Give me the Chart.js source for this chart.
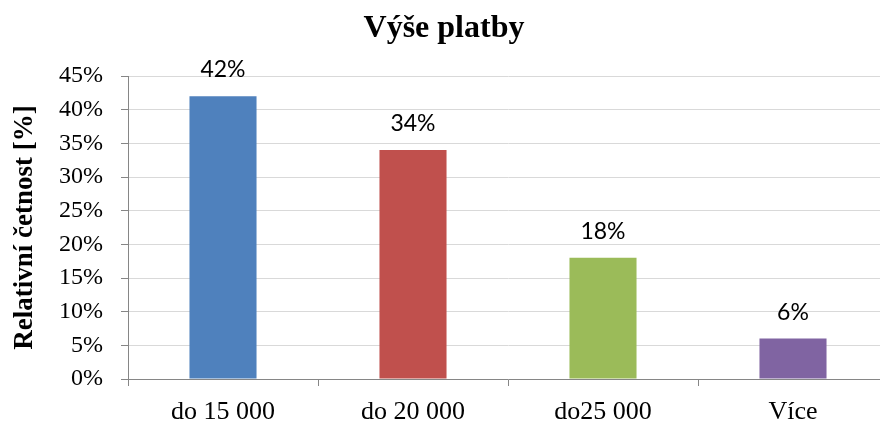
<!DOCTYPE html>
<html>
<head>
<meta charset="utf-8">
<script src="https://cdn.jsdelivr.net/npm/chart.js@4/dist/chart.umd.min.js"></script>
<style>
  html, body { margin: 0; padding: 0; background: #fff; overflow: hidden; }
  #wrap { width: 900px; height: 423px; }
</style>
</head>
<body>
<div id="wrap"><canvas id="c" width="900" height="423"></canvas></div>
<script>
// Payment amount categories and their relative frequency (%)
const categories = ['do 15 000', 'do 20 000', 'do25 000', 'Více'];
const shares = [42, 34, 18, 6];
const barColors = ['#4F81BD', '#C0504D', '#9BBB59', '#8064A2'];
const yTickValues = [0, 5, 10, 15, 20, 25, 30, 35, 40, 45];

const SERIF = '"Liberation Serif", "Times New Roman", serif';
const SANS = 'Lato, "Liberation Sans", sans-serif';

// Writes the percentage above each bar
const valueLabels = {
  id: 'valueLabels',
  afterDatasetsDraw(chart) {
    const ctx = chart.ctx;
    const meta = chart.getDatasetMeta(0);
    ctx.save();
    ctx.font = '23px ' + SANS;
    ctx.fillStyle = '#000';
    ctx.textAlign = 'center';
    ctx.textBaseline = 'alphabetic';
    meta.data.forEach((bar, i) => {
      ctx.fillText(shares[i] + '%', bar.x, bar.y - 19);
    });
    ctx.restore();
  }
};

new Chart(document.getElementById('c'), {
  type: 'bar',
  data: {
    labels: categories,
    datasets: [{
      data: shares,
      backgroundColor: barColors,
      borderWidth: 0,
      categoryPercentage: 1,
      barPercentage: 0.353
    }]
  },
  options: {
    responsive: false,
    devicePixelRatio: 1,
    animation: false,
    layout: { padding: { left: 0, right: 12, top: 0, bottom: 0 } },
    plugins: {
      legend: { display: false },
      tooltip: { enabled: false },
      title: {
        display: true,
        text: 'Výše platby',
        color: '#000',
        font: { family: SERIF, size: 32, weight: 'bold' },
        padding: { top: 10, bottom: 27.6 }
      }
    },
    scales: {
      x: {
        afterFit(scale) { scale.height = 44; },
        border: { color: '#868686', width: 1 },
        grid: {
          offset: true,
          drawOnChartArea: false,
          drawTicks: true,
          tickLength: 7,
          tickColor: '#868686'
        },
        ticks: {
          color: '#000',
          padding: 11,
          font: { family: SERIF, size: 26 }
        }
      },
      y: {
        min: 0,
        max: 45,
        afterFit(scale) { scale.width = 128; },
        afterBuildTicks(scale) { scale.ticks = yTickValues.map(v => ({ value: v })); },
        border: { color: '#868686', width: 1 },
        grid: {
          color: '#d9d9d9',
          tickColor: '#868686',
          tickLength: 7,
          drawTicks: true
        },
        ticks: {
          color: '#000',
          padding: 18,
          font: { family: SERIF, size: 24 },
          callback: v => v + '%'
        },
        title: {
          display: true,
          text: 'Relativní četnost [%]',
          color: '#000',
          font: { family: SERIF, size: 27, weight: 'bold' },
          padding: { top: 9, bottom: 0 }
        }
      }
    }
  },
  plugins: [valueLabels]
});
</script>
</body>
</html>
